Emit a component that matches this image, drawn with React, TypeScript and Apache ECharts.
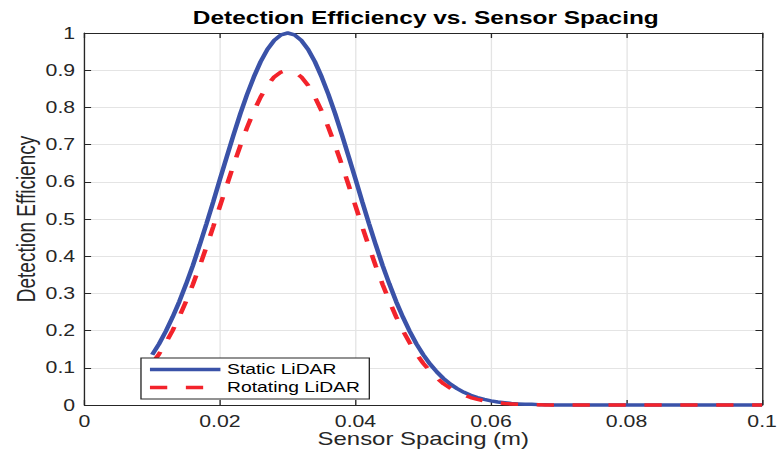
import React, { useEffect, useRef } from "react";
import * as echarts from "echarts";

// Sensor spacing (m) sampled every millimetre
const sensorSpacing = [
  0.010, 0.011, 0.012, 0.013, 0.014, 0.015, 0.016, 0.017, 0.018, 0.019,
  0.020, 0.021, 0.022, 0.023, 0.024, 0.025, 0.026, 0.027, 0.028, 0.029,
  0.030, 0.031, 0.032, 0.033, 0.034, 0.035, 0.036, 0.037, 0.038, 0.039,
  0.040, 0.041, 0.042, 0.043, 0.044, 0.045, 0.046, 0.047, 0.048, 0.049,
  0.050, 0.051, 0.052, 0.053, 0.054, 0.055, 0.056, 0.057, 0.058, 0.059,
  0.060, 0.061, 0.062, 0.063, 0.064, 0.065, 0.066, 0.067, 0.068, 0.069,
  0.070, 0.071, 0.072, 0.073, 0.074, 0.075, 0.076, 0.077, 0.078, 0.079,
  0.080, 0.081, 0.082, 0.083, 0.084, 0.085, 0.086, 0.087, 0.088, 0.089,
  0.090, 0.091, 0.092, 0.093, 0.094, 0.095, 0.096, 0.097, 0.098, 0.099,
  0.100,
];

const staticLidar = [
  0.135, 0.164, 0.198, 0.236, 0.278, 0.325, 0.375, 0.430, 0.487, 0.546,
  0.607, 0.667, 0.726, 0.783, 0.835, 0.882, 0.923, 0.956, 0.980, 0.995,
  1.000, 0.995, 0.980, 0.956, 0.923, 0.882, 0.835, 0.783, 0.726, 0.667,
  0.607, 0.546, 0.487, 0.430, 0.375, 0.325, 0.278, 0.236, 0.198, 0.164,
  0.135, 0.110, 0.089, 0.071, 0.056, 0.044, 0.034, 0.026, 0.020, 0.015,
  0.011, 0.008, 0.006, 0.004, 0.003, 0.002, 0.002, 0.001, 0.001, 0,
  0, 0, 0, 0, 0, 0, 0, 0, 0, 0,
  0, 0, 0, 0, 0, 0, 0, 0, 0, 0,
  0, 0, 0, 0, 0, 0, 0, 0, 0, 0,
  0,
];

const rotatingLidar = [
  0.112, 0.137, 0.167, 0.200, 0.237, 0.279, 0.324, 0.373, 0.425, 0.479,
  0.535, 0.590, 0.645, 0.697, 0.746, 0.790, 0.828, 0.859, 0.882, 0.895,
  0.900, 0.895, 0.882, 0.859, 0.828, 0.790, 0.746, 0.697, 0.645, 0.590,
  0.535, 0.479, 0.425, 0.373, 0.324, 0.279, 0.237, 0.200, 0.167, 0.137,
  0.112, 0.091, 0.073, 0.057, 0.045, 0.035, 0.027, 0.020, 0.015, 0.011,
  0.008, 0.006, 0.004, 0.003, 0.002, 0.002, 0.001, 0.001, 0, 0,
  0, 0, 0, 0, 0, 0, 0, 0, 0, 0,
  0, 0, 0, 0, 0, 0, 0, 0, 0, 0,
  0, 0, 0, 0, 0, 0, 0, 0, 0, 0,
  0,
];

const seriesNames = ["Static LiDAR", "Rotating LiDAR"];

// The figure is drawn narrower and widened horizontally, like a resized plot window
const STRETCH = 1.33;
const FULL_W = 778;
const FULL_H = 451;
const FONT = '"Liberation Sans", Arial, Helvetica, sans-serif';
const AXIS_COLOR = "#262626";
const GRID_COLOR = "#e4e4e4";
const BLUE = "#3a52a8";
const RED = "#f3232b";

const zip = (xs: number[], ys: number[]) => xs.map((x, i) => [x, ys[i]]);

const boxAxis = (extra: any) => ({
  type: "value",
  axisLine: { show: true, onZero: false, lineStyle: { color: AXIS_COLOR, width: 1 } },
  axisTick: { show: true, inside: true, length: 5, lineStyle: { color: AXIS_COLOR } },
  ...extra,
});

export default function App() {
  const ref = useRef<HTMLDivElement>(null);

  useEffect(() => {
    const chart = echarts.init(ref.current!, null, { renderer: "svg" });
    chart.setOption({
      animation: false,
      backgroundColor: "#fff",
      textStyle: { fontFamily: FONT },
      title: {
        text: "Detection Efficiency vs. Sensor Spacing",
        left: 145,
        top: 9,
        padding: 0,
        textStyle: { fontFamily: FONT, fontSize: 18.4, fontWeight: "bold", color: "#000" },
      },
      grid: {
        left: 63.5,
        right: 12,
        top: 33,
        bottom: 46,
        containLabel: false,
        outerBoundsMode: "none",
      },
      legend: {
        data: seriesNames,
        orient: "vertical",
        left: 106,
        top: 358,
        itemWidth: 53,
        itemHeight: 14,
        itemGap: 3,
        padding: [4, 7, 4, 5],
        backgroundColor: "#fff",
        borderColor: AXIS_COLOR,
        borderWidth: 1,
        borderRadius: 0,
        itemStyle: { opacity: 0 },
        lineStyle: { width: 3.5 },
        textStyle: { fontFamily: FONT, fontSize: 14.5, color: "#000" },
      },
      xAxis: [
        boxAxis({
          position: "bottom",
          min: 0,
          max: 0.1,
          interval: 0.02,
          axisLabel: { color: AXIS_COLOR, fontSize: 16, margin: 8, fontFamily: FONT },
          splitLine: { show: true, lineStyle: { color: GRID_COLOR, width: 1 } },
          name: "Sensor Spacing (m)",
          nameLocation: "middle",
          nameGap: 25,
          nameMoveOverlap: false,
          nameTextStyle: { fontFamily: FONT, fontSize: 18, color: AXIS_COLOR },
        }),
        boxAxis({
          position: "top",
          min: 0,
          max: 0.1,
          interval: 0.02,
          axisLabel: { show: false },
          splitLine: { show: false },
        }),
      ],
      yAxis: [
        boxAxis({
          position: "left",
          min: 0,
          max: 1,
          interval: 0.1,
          axisLabel: { color: AXIS_COLOR, fontSize: 16, margin: 7, fontFamily: FONT },
          splitLine: { show: true, lineStyle: { color: GRID_COLOR, width: 1 } },
          name: "Detection Efficiency",
          nameLocation: "middle",
          nameGap: 34,
          nameMoveOverlap: false,
          nameRotate: 90,
          nameTextStyle: { fontFamily: FONT, fontSize: 19, color: AXIS_COLOR },
        }),
        boxAxis({
          position: "right",
          min: 0,
          max: 1,
          interval: 0.1,
          axisLabel: { show: false },
          splitLine: { show: false },
        }),
      ],
      series: [
        {
          name: seriesNames[0],
          type: "line",
          xAxisIndex: 0,
          yAxisIndex: 0,
          data: zip(sensorSpacing, staticLidar),
          symbol: "none",
          showSymbol: false,
          clip: false,
          lineStyle: { color: BLUE, width: 3.5 },
          itemStyle: { color: BLUE },
        },
        {
          name: seriesNames[1],
          type: "line",
          xAxisIndex: 0,
          yAxisIndex: 0,
          data: zip(sensorSpacing, rotatingLidar),
          symbol: "none",
          showSymbol: false,
          clip: false,
          lineStyle: { color: RED, width: 3.5, type: [13, 14] },
          itemStyle: { color: RED },
        },
      ],
    });
    return () => chart.dispose();
  }, []);

  return (
    <div
      style={{
        position: "absolute",
        left: 0,
        top: 0,
        width: FULL_W,
        height: FULL_H,
        overflow: "hidden",
        background: "#fff",
      }}
    >
      <div
        ref={ref}
        style={{
          width: Math.round(FULL_W / STRETCH),
          height: FULL_H,
          transform: `scaleX(${STRETCH})`,
          transformOrigin: "0 0",
        }}
      />
    </div>
  );
}
